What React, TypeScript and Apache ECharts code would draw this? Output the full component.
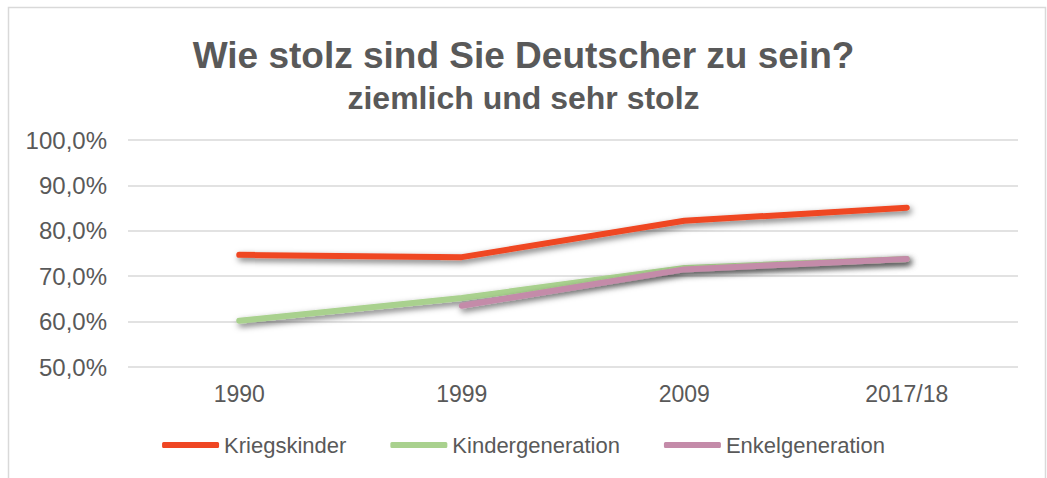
import React, { useEffect, useRef } from "react";
import * as echarts from "echarts";

const categories = ["1990", "1999", "2009", "2017/18"];
const kriegskinder = [74.7, 74.2, 82.2, 85.1];
const kindergeneration = [60.2, 65.2, 71.8, 73.8];
const enkelgeneration = [null, 63.5, 71.5, 73.8];
const yTicks = [50, 60, 70, 80, 90, 100];

const FONT = "'Liberation Sans', Arial, sans-serif";
const TXT = "#595959";

export default function App() {
  const ref = useRef<HTMLDivElement>(null);
  useEffect(() => {
    if (!ref.current) return;
    const chart = echarts.init(ref.current, undefined, { renderer: "svg" });
    const shadow = {
      shadowColor: "rgba(0,0,0,0.55)",
      shadowBlur: 6,
      shadowOffsetX: 2,
      shadowOffsetY: 3,
    };
    const mk = (name: string, data: (number | null)[], color: string) => ({
      name,
      type: "line",
      data,
      symbol: "none",
      connectNulls: false,
      color,
      lineStyle: { width: 6, color, cap: "round", join: "round", ...shadow },
    });
    chart.setOption({
      animation: false,
      textStyle: { fontFamily: FONT },
      title: [
        {
          text: "Wie stolz sind Sie Deutscher zu sein?",
          left: "center",
          top: 32,
          textStyle: { fontSize: 37, fontWeight: "bold", color: TXT, fontFamily: FONT },
        },
        {
          text: "ziemlich und sehr stolz",
          left: "center",
          top: 77,
          textStyle: { fontSize: 32, fontWeight: "bold", color: TXT, fontFamily: FONT },
        },
      ],
      graphic: [
        {
          type: "rect",
          shape: { x: 8.5, y: 7.5, width: 1037, height: 490 },
          style: { fill: "none", stroke: "#d9d9d9", lineWidth: 1.5 },
          silent: true,
        },
      ],
      legend: {
        bottom: 17,
        left: "center",
        itemWidth: 57,
        itemHeight: 6,
        itemGap: 44,
        icon: "roundRect",
        textStyle: { fontSize: 22, color: TXT, fontFamily: FONT },
        data: ["Kriegskinder", "Kindergeneration", "Enkelgeneration"],
      },
      grid: { left: 128, right: 29, top: 140, bottom: 111 },
      xAxis: {
        type: "category",
        data: categories,
        boundaryGap: true,
        axisLine: { show: false },
        axisTick: { show: false },
        axisLabel: { fontSize: 23, color: TXT, margin: 15, fontFamily: FONT },
      },
      yAxis: {
        type: "value",
        min: yTicks[0],
        max: yTicks[yTicks.length - 1],
        interval: 10,
        axisLine: { show: false },
        axisTick: { show: false },
        splitLine: { lineStyle: { color: "#d9d9d9", width: 1.5 } },
        axisLabel: {
          fontSize: 24,
          color: TXT,
          margin: 21,
          fontFamily: FONT,
          formatter: (v: number) => v.toFixed(1).replace(".", ",") + "%",
        },
      },
      series: [
        mk("Kriegskinder", kriegskinder, "#EF4623"),
        mk("Kindergeneration", kindergeneration, "#A9D18E"),
        mk("Enkelgeneration", enkelgeneration, "#C48BA9"),
      ],
    });
    return () => chart.dispose();
  }, []);
  return (
    <div
      ref={ref}
      style={{ position: "fixed", left: 0, top: 0, width: 1047, height: 478, background: "#fff" }}
    />
  );
}
